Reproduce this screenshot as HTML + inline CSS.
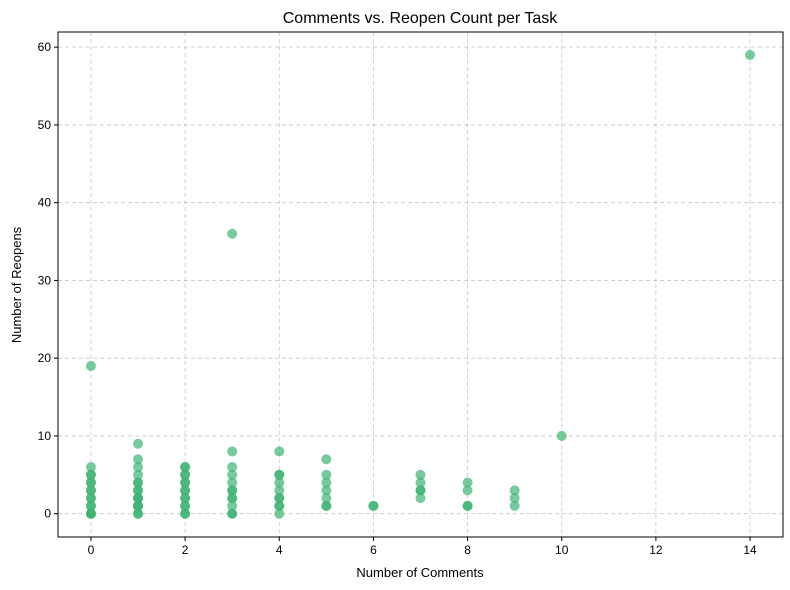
<!DOCTYPE html>
<html><head><meta charset="utf-8"><style>body{margin:0;background:#fff}svg{display:block;font-family:"Liberation Sans","DejaVu Sans",sans-serif}</style></head>
<body>
<svg id="c" width="790" height="590"></svg>
<script>
const comments=[0,0,0,0,0,0,0,0,0,0,0,0,0,0,0,1,1,1,1,1,1,1,1,1,1,1,1,1,1,1,1,2,2,2,2,2,2,2,2,2,2,2,2,2,2,3,3,3,3,3,3,3,3,3,3,3,3,4,4,4,4,4,4,4,4,4,4,5,5,5,5,5,5,5,6,6,7,7,7,7,7,8,8,8,8,9,9,9,10,14];
const reopens=[0,0,1,1,2,2,3,3,4,4,5,5,6,19,0,0,0,1,1,2,2,3,3,4,4,5,6,7,9,2,1,0,0,1,1,2,2,3,3,4,4,5,5,6,6,0,0,1,2,2,3,3,4,5,6,8,36,0,1,1,2,2,3,4,5,5,8,1,1,2,3,4,5,7,1,1,2,3,3,4,5,1,1,3,4,1,2,3,10,59];
const xTicks=[0,2,4,6,8,10,12,14];
const yTicks=[0,10,20,30,40,50,60];
const NS="http://www.w3.org/2000/svg";
const svg=document.getElementById('c');
const L=58,R=783,T=32,B=537,xmin=-0.7,xmax=14.7,ymin=-3,ymax=61.95;
const sx=v=>L+(v-xmin)/(xmax-xmin)*(R-L);
const sy=v=>B-(v-ymin)/(ymax-ymin)*(B-T);
function mk(t,a,p){const e=document.createElementNS(NS,t);for(const k in a)e.setAttribute(k,a[k]);(p||svg).appendChild(e);return e;}
xTicks.forEach(v=>{const x=sx(v);
const g=mk('line',{x1:x,x2:x,y1:T,y2:B,stroke:'#b0b0b0','stroke-width':0.8,'stroke-dasharray':'4,3',opacity:0.7});


mk('line',{x1:x,x2:x,y1:B,y2:B+4,stroke:'#000'});
const t=mk('text',{x:x,y:B+17,'text-anchor':'middle','font-size':12});t.textContent=v;

});
yTicks.forEach(v=>{const y=sy(v);
const g=mk('line',{x1:L,x2:R,y1:y,y2:y,stroke:'#b0b0b0','stroke-width':0.8,'stroke-dasharray':'4,3',opacity:0.7});


mk('line',{x1:L-4,x2:L,y1:y,y2:y,stroke:'#000'});
const t=mk('text',{x:L-7,y:y+4,'text-anchor':'end','font-size':12});t.textContent=v;

});
comments.forEach((c,i)=>{const p=mk('circle',{cx:sx(c),cy:sy(reopens[i]),r:5,fill:'#3cb371','fill-opacity':0.7});

});
const f=mk('rect',{x:L,y:T,width:R-L,height:B-T,fill:'none',stroke:'#000','stroke-width':1});


</script>
<svg style="position:absolute;left:0;top:0" width="790" height="590">
<text x="420" y="23" text-anchor="middle" font-size="16" font-family="Liberation Sans,sans-serif">Comments vs. Reopen Count per Task</text>
<text x="420" y="577" text-anchor="middle" font-size="13" font-family="Liberation Sans,sans-serif">Number of Comments</text>
<text x="21" y="285" text-anchor="middle" font-size="13" font-family="Liberation Sans,sans-serif" transform="rotate(-90 21 285)">Number of Reopens</text>
</svg>
</body></html>
